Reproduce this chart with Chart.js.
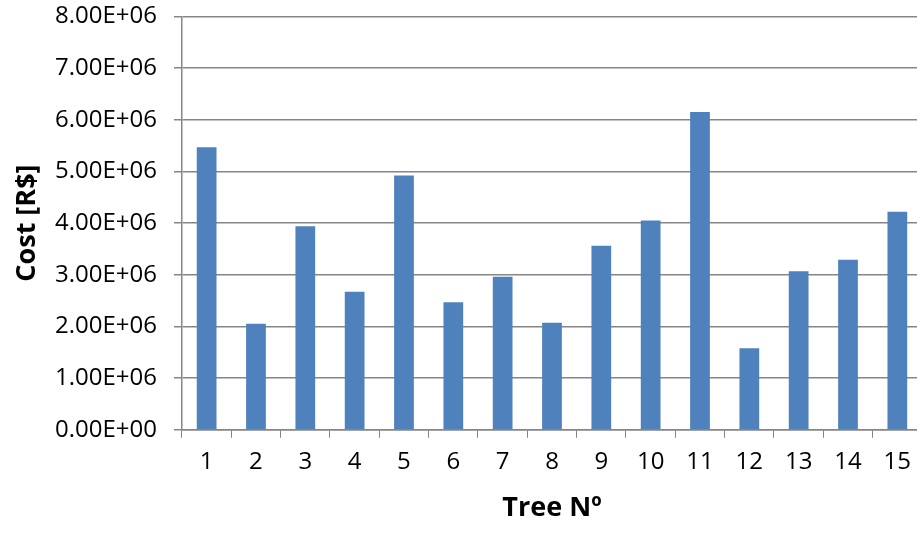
<!DOCTYPE html>
<html>
<head>
<meta charset="utf-8">
<script src="https://cdn.jsdelivr.net/npm/chart.js@4"></script>
<style>
  html, body { margin: 0; padding: 0; background: #fff; overflow: hidden; }
  #wrap { width: 922px; height: 553px; position: relative; top: -15px; }
</style>
</head>
<body>
<div id="wrap"><canvas id="costChart"></canvas></div>
<script>
// data
const trees = ['1', '2', '3', '4', '5', '6', '7', '8', '9', '10', '11', '12', '13', '14', '15'];
const costs = [5.47e6, 2.05e6, 3.94e6, 2.67e6, 4.92e6, 2.47e6, 2.96e6, 2.07e6, 3.56e6, 4.05e6, 6.15e6, 1.58e6, 3.07e6, 3.29e6, 4.22e6];
const yMax = 8e6;
const yStep = 1e6;

const axisGray = '#868686';
const fontFamily = '"Open Sans", sans-serif';

function sciLabel(v) {
  if (v === 0) return '0.00E+00';
  const exp = Math.floor(Math.log10(Math.abs(v)));
  const mant = v / Math.pow(10, exp);
  const e = String(Math.abs(exp)).padStart(2, '0');
  return mant.toFixed(2) + 'E' + (exp < 0 ? '-' : '+') + e;
}

const ctx = document.getElementById('costChart').getContext('2d');
const costChart = new Chart(ctx, {
  type: 'bar',
  data: {
    labels: trees,
    datasets: [{
      label: 'Cost',
      data: costs,
      backgroundColor: '#4f81bd',
      barPercentage: 0.4,
      categoryPercentage: 1.0
    }]
  },
  options: {
    responsive: true,
    maintainAspectRatio: false,
    animation: false,
    layout: {
      padding: { top: 0, left: 14, right: 0, bottom: 13 }
    },
    plugins: {
      legend: { display: false },
      tooltip: { enabled: false }
    },
    scales: {
      x: {
        grid: {
          display: true,
          drawOnChartArea: false,
          drawTicks: true,
          tickLength: 8,
          color: axisGray,
          offset: true
        },
        border: { display: true, color: axisGray, width: 1.5 },
        ticks: {
          color: '#000',
          padding: 10,
          font: { family: fontFamily, size: 24 }
        },
        title: {
          display: true,
          text: 'Tree Nº',
          color: '#000',
          padding: { top: 6, bottom: 0 },
          font: { family: fontFamily, size: 27, weight: 'bold' }
        }
      },
      y: {
        min: 0,
        max: yMax,
        grid: {
          color: axisGray,
          lineWidth: 1.5,
          tickLength: 8
        },
        border: { display: true, color: axisGray, width: 1.5 },
        ticks: {
          stepSize: yStep,
          color: '#000',
          padding: 17,
          font: { family: fontFamily, size: 24 },
          callback: (v) => sciLabel(v)
        },
        title: {
          display: true,
          text: 'Cost [R$]',
          color: '#000',
          padding: { top: 0, bottom: -3 },
          font: { family: fontFamily, size: 27, weight: 'bold', lineHeight: 1.0 }
        }
      }
    }
  }
});
</script>
</body>
</html>
